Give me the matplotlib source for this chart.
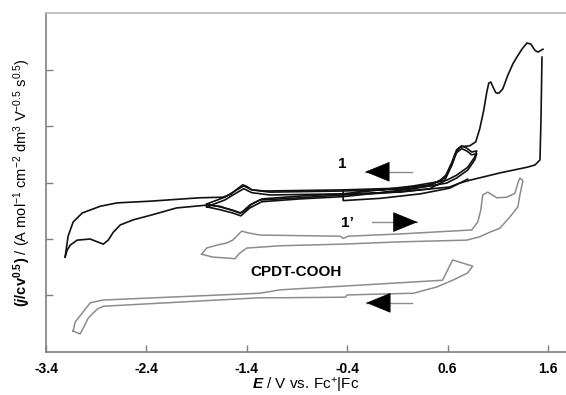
import matplotlib
matplotlib.use('Agg')
import matplotlib.pyplot as plt

plt.rcParams['font.family'] = ['Liberation Sans', 'DejaVu Sans']
plt.rcParams['mathtext.fontset'] = 'custom'
plt.rcParams['mathtext.rm'] = 'Liberation Sans'
plt.rcParams['mathtext.bf'] = 'Liberation Sans:bold'
plt.rcParams['mathtext.it'] = 'Liberation Sans:italic:bold'

# ---- data (E / V, normalised current) ----
# compound 1, wide scan: anodic branch (left -> right)
e1_up = [-3.21, -3.20, -3.18, -3.13, -3.04, -2.86, -2.69, -2.36, -1.87, -1.64, -1.56,
         -1.50, -1.44, -1.40, -1.35, -1.22, -0.44, 0.13, 0.42, 0.52, 0.59, 0.64, 0.68,
         0.72, 0.76, 0.82, 0.88, 0.92, 0.96, 0.99, 1.01, 1.03, 1.05, 1.08, 1.11, 1.15,
         1.20, 1.25, 1.29, 1.34, 1.39, 1.43, 1.47, 1.50, 1.55]
i1_up = [1.68, 1.80, 2.05, 2.30, 2.46, 2.58, 2.64, 2.67, 2.73, 2.74, 2.79,
         2.88, 2.96, 2.93, 2.87, 2.85, 2.87, 2.90, 2.96, 3.03, 3.14, 3.31, 3.52,
         3.62, 3.64, 3.65, 3.72, 3.95, 4.28, 4.60, 4.76, 4.78, 4.70, 4.59, 4.58, 4.66,
         4.90, 5.10, 5.22, 5.36, 5.47, 5.45, 5.34, 5.31, 5.36]
# compound 1, wide scan: cathodic branch (right -> left)
e1_dn = [1.54, 1.53, 1.52, 1.47, 1.39, 1.12, 0.82, 0.72, 0.62, 0.33, -0.07, -0.44,
         -0.87, -1.27, -1.35, -1.42, -1.47, -1.55, -1.67, -1.80, -2.10, -2.36, -2.53,
         -2.66, -2.73, -2.78, -2.83, -2.86, -2.96, -3.09, -3.16, -3.19, -3.21]
i1_dn = [5.22, 4.11, 3.40, 3.31, 3.27, 3.17, 3.04, 2.99, 2.92, 2.87, 2.81, 2.78,
         2.73, 2.69, 2.62, 2.50, 2.46, 2.51, 2.58, 2.60, 2.55, 2.42, 2.34,
         2.25, 2.12, 1.98, 1.91, 1.93, 2.00, 1.98, 1.89, 1.80, 1.68]
# compound 1, narrow cycles
e1_in = [-1.80, -1.62, -1.50, -1.43, -1.35, -1.17, -0.44, 0.13, 0.42, 0.57, 0.64,
         0.69, 0.74, 0.79, 0.84, 0.89, 0.87, 0.80, 0.69, 0.59, 0.26, -0.07, -0.44,
         -0.87, -1.25, -1.37, -1.46, -1.54, -1.67, -1.80]
i1_in = [2.62, 2.74, 2.87, 2.94, 2.87, 2.83, 2.85, 2.88, 2.94, 3.08, 3.35,
         3.58, 3.65, 3.61, 3.54, 3.56, 3.45, 3.27, 3.13, 3.04, 2.94, 2.87, 2.80,
         2.76, 2.71, 2.60, 2.46, 2.51, 2.57, 2.62]
# start of the scans at -0.4 V
e1_st = [-0.44, -0.44, -0.07, 0.33, 0.62, 0.80]
i1_st = [2.87, 2.68, 2.72, 2.80, 2.90, 3.06]

# 1' (film)
e1p = [-1.85, -1.80, -1.70, -1.60, -1.54, -1.49, -1.45, -1.39, -1.27, -0.47, -0.44,
       -0.39, 0.13, 0.84, 0.90, 0.93, 0.95, 1.00, 1.09, 1.19, 1.27, 1.30, 1.32, 1.35,
       1.32, 1.30, 1.22, 1.12, 1.02, 0.92, 0.79, 0.13, -0.44, -1.07, -1.40, -1.47,
       -1.52, -1.57, -1.74, -1.85]
i1p = [1.73, 1.84, 1.89, 1.93, 1.98, 2.07, 2.14, 2.11, 2.07, 2.05, 2.01,
       2.05, 2.09, 2.16, 2.30, 2.51, 2.78, 2.83, 2.73, 2.74, 2.81, 2.99, 3.08, 3.03,
       2.78, 2.57, 2.39, 2.19, 2.12, 2.04, 1.98, 1.95, 1.91, 1.88, 1.84, 1.75,
       1.65, 1.66, 1.68, 1.73]

# CPDT-COOH
e_cp = [-3.13, -3.11, -3.03, -2.96, -2.83, -1.27, -1.07, 0.55, 0.60, 0.65, 0.72, 0.85,
        0.80, 0.65, 0.49, 0.26, -0.40, -0.42, -1.07, -1.27, -2.83, -2.89, -2.98,
        -3.03, -3.06, -3.13]
i_cp = [0.37, 0.53, 0.71, 0.87, 0.92, 1.04, 1.10, 1.27, 1.45, 1.63, 1.59, 1.52,
        1.40, 1.27, 1.15, 1.04, 1.01, 0.97, 0.96, 0.96, 0.81, 0.76, 0.60,
        0.42, 0.32, 0.37]

xticks = [-3.4, -2.4, -1.4, -0.4, 0.6, 1.6]
xticklabels = ['-3.4', '-2.4', '-1.4', '-0.4', '0.6', '1.6']

fig = plt.figure(figsize=(5.66, 3.95), dpi=100)
ax = fig.add_axes([0.0813, 0.1089, 0.9187, 0.858])

black = '#111111'
grey = '#8c8c8c'
ax.plot(e1_up, i1_up, color=black, lw=1.2, solid_joinstyle='round')
ax.plot(e1_dn, i1_dn, color=black, lw=1.2, solid_joinstyle='round')
ax.plot(e1_in, i1_in, color=black, lw=1.2, solid_joinstyle='round')
ax.plot(e1_in, [v - 0.05 for v in i1_in], color=black, lw=1.2, solid_joinstyle='round')
ax.plot(e1_st, i1_st, color=black, lw=1.2)
ax.plot(e1p, i1p, color=grey, lw=1.1, solid_joinstyle='round')
ax.plot(e_cp, i_cp, color=grey, lw=1.1, solid_joinstyle='round')

# direction arrows: grey tail, black head
def arrow(x_tail, x_tip, y):
    ax.plot([x_tail, x_tip], [y, y], color=grey, lw=1.0)
    ax.annotate('', xy=(x_tip, y), xytext=(x_tip + (x_tail - x_tip) * 0.05, y),
                arrowprops=dict(arrowstyle='-|>,head_length=1.1,head_width=0.45',
                                color='black', lw=0.5, mutation_scale=15,
                                shrinkA=0, shrinkB=0))

arrow(0.25, -0.22, 3.19)
arrow(-0.15, 0.30, 2.30)
arrow(0.25, -0.21, 0.87)

ax.text(-0.45, 3.33, '1', fontsize=11, fontweight='bold', ha='center', va='center')
ax.text(-0.40, 2.28, '1\u2019', fontsize=11, fontweight='bold', ha='center', va='center')
ax.text(-0.91, 1.42, 'CPDT-COOH', fontsize=11, fontweight='bold', ha='center', va='center')

ax.set_xlim(-3.4, -3.4 + 520 / 100.4)
ax.set_ylim(0, 6)
ax.set_xticks(xticks)
ax.set_xticklabels(xticklabels, fontsize=10, fontweight='bold')
ax.set_yticks([1, 2, 3, 4, 5])
ax.set_yticklabels([])
ax.tick_params(direction='in', length=5, color='#808080', width=1)
ax.tick_params(axis='x', pad=7)

for s in ['left', 'bottom']:
    ax.spines[s].set_color('#808080')
    ax.spines[s].set_linewidth(1.2)
ax.spines['top'].set_color('#b8b8b8')
ax.spines['top'].set_linewidth(1.2)
ax.spines['right'].set_visible(False)

ax.set_xlabel(r'$\mathit{E}$ / V vs. Fc$^{+}$|Fc', fontsize=11, labelpad=0)
ax.set_ylabel(r'$\mathbf{(}\mathit{j}\mathbf{/cv^{0.5})}$ / (A mol$^{-1}$ cm$^{-2}$ dm$^{3}$ V$^{-0.5}$ s$^{0.5}$)',
              fontsize=10.5, labelpad=6)

fig.savefig('out.png', dpi=100)
